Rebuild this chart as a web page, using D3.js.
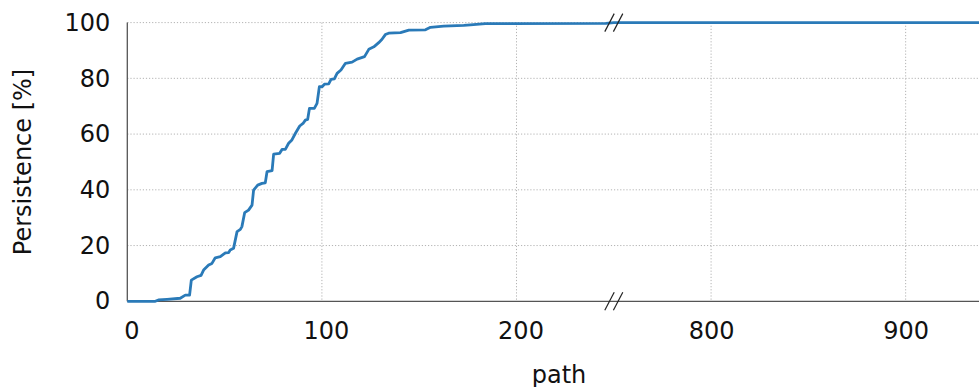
<!DOCTYPE html>
<html>
<head>
<meta charset="utf-8">
<script src="https://cdn.jsdelivr.net/npm/d3@7"></script>
<style>
  html, body { margin: 0; padding: 0; background: #fff; }
  svg { display: block; }
  text { font-family: "DejaVu Sans", sans-serif; }
</style>
</head>
<body>
<script>
// ---- data ----
const pathLen = [0, 14.4, 16, 20.4, 27.2, 29.8, 32, 32.9, 35.8, 37.9, 39.2, 41.8, 43.5, 45.2, 47.8, 50.4, 52.1, 52.9, 54.6,
  56.4, 58.1, 58.9, 60.3, 62.3, 64.1, 64.9, 67, 69.2, 70.9, 71.8, 74.4, 75.2, 78.3, 79.5, 81.2, 82.9, 84.6, 86.4, 88.6,
  90.3, 91.5, 92.7, 93.6, 96.1, 97.5, 98.7, 100.1, 101.3, 103.5, 104.7, 106.4, 107.8, 109.8, 112.1, 115.5, 118.1, 121.9,
  124.1, 126.7, 129.2, 130.9, 132.6, 134.3, 140.4, 144.7, 153.2, 155.8, 162.6, 172.9, 176.3, 184, 246, 750, 950];
const persistence = [0, 0, 0.5, 0.7, 1.1, 2.2, 2.2, 7.6, 8.8, 9.3, 11.2, 13.0, 13.6, 15.6, 16.0, 17.4, 17.5, 18.4, 19.0,
  25.0, 25.8, 26.8, 31.8, 32.7, 34.5, 39.9, 41.7, 42.3, 42.5, 46.5, 46.9, 52.8, 53.1, 54.5, 54.5, 56.7, 57.9, 60.3, 62.9,
  63.8, 65.0, 65.3, 69.2, 69.2, 71.0, 77.0, 77.0, 77.9, 78.0, 79.6, 79.8, 81.8, 83.0, 85.4, 85.8, 86.9, 87.8,
  90.4, 91.3, 92.8, 94.0, 95.7, 96.2, 96.4, 97.3, 97.4, 98.3, 98.7, 99.0, 99.2, 99.6, 99.7, 100, 100];
const xTicksLeft = [0, 100, 200];
const xTicksRight = [800, 900];
const yTicks = [0, 20, 40, 60, 80, 100];
const xLabel = "path";
const yLabel = "Persistence [%]";

// ---- layout ----
const W = 979, H = 387;
const pL = 127.3, pR = 979, pT = 22.6, pB = 301.3, brk = 613.8;

const xL = d3.scaleLinear().domain([0, 250]).range([pL, brk]);
const xR = d3.scaleLinear().domain([750, 937.7]).range([brk, pR]);
const xs = v => v <= 250 ? xL(v) : xR(v);
const y = d3.scaleLinear().domain([0, 100]).range([pB, pT]);

const svg = d3.select("body").append("svg").attr("width", W).attr("height", H);

// grid
const grid = svg.append("g").attr("stroke", "#b3b3b3").attr("stroke-width", 1).attr("stroke-dasharray", "1.2,1.9");
grid.selectAll("line.h").data(yTicks.filter(d => d > 0)).join("line")
  .attr("x1", pL).attr("x2", pR).attr("y1", d => y(d)).attr("y2", d => y(d));
grid.selectAll("line.vl").data(xTicksLeft.filter(d => d > 0)).join("line")
  .attr("x1", d => xL(d)).attr("x2", d => xL(d)).attr("y1", pT).attr("y2", pB);
grid.selectAll("line.vr").data(xTicksRight).join("line")
  .attr("x1", d => xR(d)).attr("x2", d => xR(d)).attr("y1", pT).attr("y2", pB);

// spines
svg.append("line").attr("x1", pL).attr("x2", pL).attr("y1", pT).attr("y2", pB)
  .attr("stroke", "#555").attr("stroke-width", 1.3);
svg.append("line").attr("x1", pL).attr("x2", pR).attr("y1", pB).attr("y2", pB)
  .attr("stroke", "#555").attr("stroke-width", 1.3);

// data line
const pts = pathLen.map((v, i) => [v, persistence[i]]);
svg.append("path").datum(pts)
  .attr("fill", "none").attr("stroke", "#2a7ab8").attr("stroke-width", 2.8)
  .attr("stroke-linejoin", "round")
  .attr("d", d3.line().x(d => xs(d[0])).y(d => y(d[1])));

// break marks
const brkG = svg.append("g").attr("stroke", "#222").attr("stroke-width", 1.2);
[y(0), y(100)].forEach(cy => {
  [-4.3, 4.3].forEach(off => {
    brkG.append("line")
      .attr("x1", brk + off - 4.7).attr("y1", cy + 9)
      .attr("x2", brk + off + 4.7).attr("y2", cy - 9);
  });
});

// axes
const fs = "24px";
const axL = svg.append("g").attr("transform", `translate(0,${pB})`)
  .call(d3.axisBottom(xL).tickValues(xTicksLeft).tickSize(0).tickPadding(21));
axL.selectAll("text").attr("dx", 4);
const axR = svg.append("g").attr("transform", `translate(0,${pB})`)
  .call(d3.axisBottom(xR).tickValues(xTicksRight).tickSize(0).tickPadding(21));
const axY = svg.append("g").attr("transform", `translate(${pL},0)`)
  .call(d3.axisLeft(y).tickValues(yTicks).tickSize(0).tickPadding(17));
[axL, axR, axY].forEach(a => {
  a.select(".domain").remove();
  a.selectAll("text").attr("font-size", fs).attr("fill", "#111").attr("font-family", "DejaVu Sans, sans-serif");
});

// labels
svg.append("text").attr("x", 559).attr("y", 383).attr("text-anchor", "middle")
  .attr("font-size", fs).attr("fill", "#111").text(xLabel);
svg.append("text").attr("transform", "translate(31,162) rotate(-90)").attr("text-anchor", "middle")
  .attr("font-size", fs).attr("fill", "#111").text(yLabel);
</script>
</body>
</html>
